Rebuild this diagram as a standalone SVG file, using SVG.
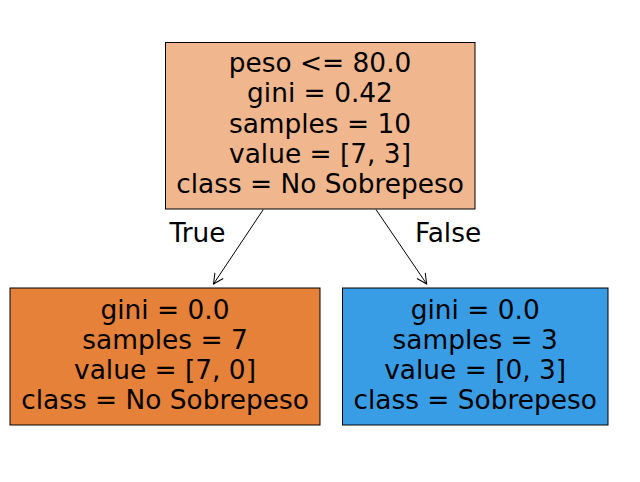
<svg xmlns="http://www.w3.org/2000/svg" width="640" height="482" viewBox="0 0 640 482">
<style>
text{font-family:"DejaVu Sans",sans-serif;font-size:26.4px;fill:#000;text-anchor:middle}
.box{stroke:#000;stroke-width:1}
.edge{stroke:#000;stroke-width:1;fill:none}
</style>
<defs>
<marker id="arr" markerUnits="userSpaceOnUse" markerWidth="14" markerHeight="14" refX="0" refY="0" viewBox="-12 -7 14 14" orient="auto" overflow="visible">
<path d="M-10,-5 L0,0 L-10,5" fill="none" stroke="#000" stroke-width="1"/>
</marker>
</defs>
<rect width="640" height="482" fill="#fff"/>
<g id="connectors">
<line class="edge" x1="263.3" y1="209.5" x2="213.5" y2="284" marker-end="url(#arr)"/>
<line class="edge" x1="376" y1="209.5" x2="426.7" y2="284" marker-end="url(#arr)"/>
<text x="197.5" y="241.5">True</text>
<text x="448" y="241.5">False</text>
</g>
<g id="root">
<rect class="box" x="165.5" y="42.5" width="309.5" height="166.5" fill="#f0b78e"/>
<text x="320" y="72">peso &lt;= 80.0</text>
<text x="320" y="102.3">gini = 0.42</text>
<text x="320" y="132.6">samples = 10</text>
<text x="320" y="162.9">value = [7, 3]</text>
<text x="320" y="193.2">class = No Sobrepeso</text>
</g>
<g id="leaf-left">
<rect class="box" x="10" y="288" width="310" height="137" fill="#e58139"/>
<text x="165" y="318.5">gini = 0.0</text>
<text x="165" y="348.5">samples = 7</text>
<text x="165" y="378.5">value = [7, 0]</text>
<text x="165" y="408.5">class = No Sobrepeso</text>
</g>
<g id="leaf-right">
<rect class="box" x="342.5" y="288" width="265.5" height="137" fill="#399de5"/>
<text x="475.2" y="318.5">gini = 0.0</text>
<text x="475.2" y="348.5">samples = 3</text>
<text x="475.2" y="378.5">value = [0, 3]</text>
<text x="475.2" y="408.5">class = Sobrepeso</text>
</g>
</svg>
